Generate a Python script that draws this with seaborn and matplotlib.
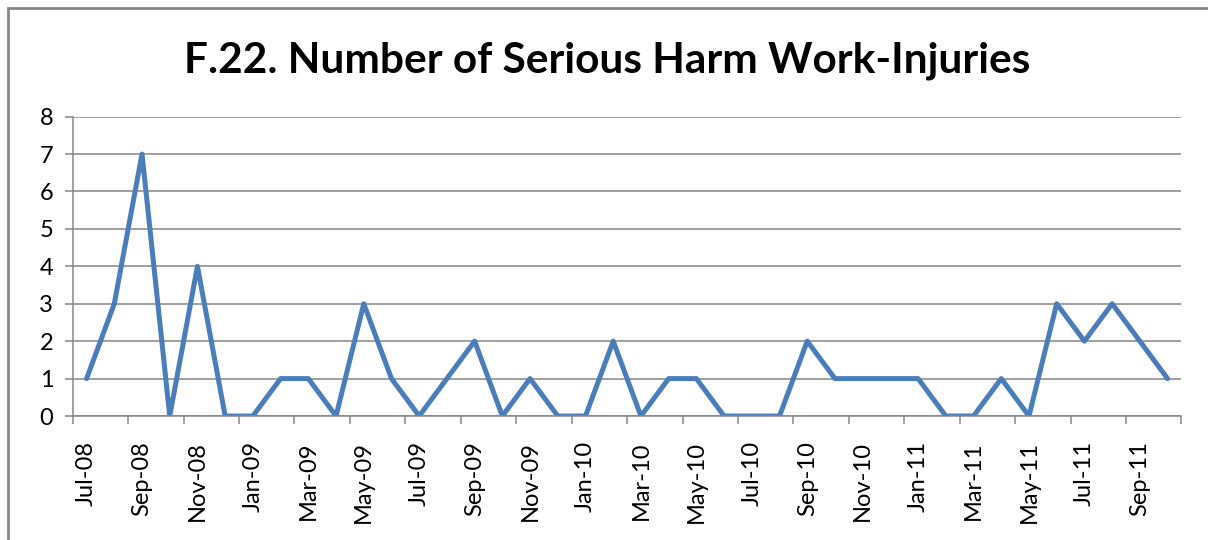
import numpy as np
import pandas as pd
import matplotlib
matplotlib.use("Agg")
import matplotlib.pyplot as plt
from matplotlib.patches import Rectangle
import seaborn as sns

# ====== DATA ======
months = ["Jul-08", "Aug-08", "Sep-08", "Oct-08", "Nov-08", "Dec-08",
          "Jan-09", "Feb-09", "Mar-09", "Apr-09", "May-09", "Jun-09",
          "Jul-09", "Aug-09", "Sep-09", "Oct-09", "Nov-09", "Dec-09",
          "Jan-10", "Feb-10", "Mar-10", "Apr-10", "May-10", "Jun-10",
          "Jul-10", "Aug-10", "Sep-10", "Oct-10", "Nov-10", "Dec-10",
          "Jan-11", "Feb-11", "Mar-11", "Apr-11", "May-11", "Jun-11",
          "Jul-11", "Aug-11", "Sep-11", "Oct-11"]
injuries = [1, 3, 7, 0, 4, 0,
            0, 1, 1, 0, 3, 1,
            0, 1, 2, 0, 1, 0,
            0, 2, 0, 1, 1, 0,
            0, 0, 2, 1, 1, 1,
            1, 0, 0, 1, 0, 3,
            2, 3, 2, 1]
title = "F.22. Number of Serious Harm Work-Injuries"

df = pd.DataFrame({"month": months, "pos": np.arange(len(months)), "injuries": injuries})

# ====== STYLE ======
sns.set_style("white")
plt.rcParams["font.family"] = ["Lato", "DejaVu Sans"]
grey = "#868686"

fig = plt.figure(figsize=(12.08, 5.4), dpi=100)
ax = fig.add_axes([0.0602, 0.2296, 0.9178, 0.5544])

sns.lineplot(data=df, x="pos", y="injuries", ax=ax, color="#4A7EBB", linewidth=3.6)

# y axis
ax.set_ylim(0, 8)
ax.set_yticks(range(0, 9))
ax.yaxis.grid(True, color=grey, linewidth=1.1)
ax.set_axisbelow(True)

# x axis: tick marks between months, labels every 2 months
ax.set_xlim(-0.5, len(months) - 0.5)
ax.set_xticks(np.arange(-0.5, len(months), 2))
ax.set_xticklabels([])
ax.set_xticks(df["pos"][::2], minor=True)
ax.set_xticklabels(df["month"][::2], minor=True, rotation=90, fontsize=17)
ax.tick_params(axis="x", which="major", direction="out", length=6, color=grey, width=1.1, bottom=True)
ax.tick_params(axis="x", which="minor", length=0, pad=18, labelcolor="black")
ax.tick_params(axis="y", direction="out", length=6, color=grey, width=1.1, left=True,
               labelsize=17, pad=8, labelcolor="black")

ax.set_xlabel("")
ax.set_ylabel("")
for s in ["top", "right"]:
    ax.spines[s].set_visible(False)
for s in ["left", "bottom"]:
    ax.spines[s].set_color(grey)
    ax.spines[s].set_linewidth(1.1)

fig.text(0.503, 1 - 73 / 540, title, ha="center", va="baseline",
         fontsize=30.5, fontweight="bold", color="black")

# chart frame (cut off on right and bottom)
fig.patches.append(Rectangle((8 / 1208, -0.2), 1.2, 1 - 8 / 540 + 0.2,
                             transform=fig.transFigure, fill=False,
                             edgecolor=grey, linewidth=2))

fig.savefig("out.png", dpi=100)
